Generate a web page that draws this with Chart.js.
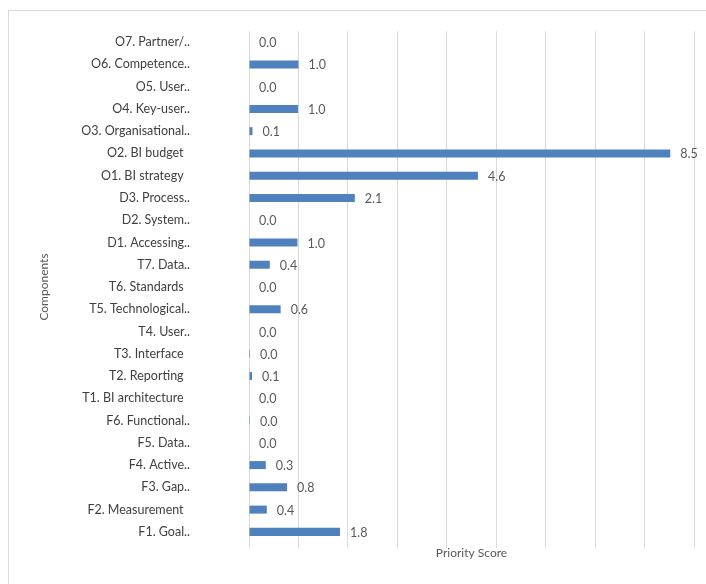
<!DOCTYPE html>
<html>
<head>
<meta charset="utf-8">
<script src="https://cdn.jsdelivr.net/npm/chart.js@4/dist/chart.umd.min.js"></script>
<style>
  html, body { margin: 0; padding: 0; background: #ffffff; }
  #wrap { position: relative; width: 706px; height: 584px; overflow: hidden; }
  #frame { position: absolute; left: 8px; top: 10px; width: 720px; height: 600px; border: 1px solid #d9d9d9; box-sizing: border-box; }
  canvas { position: absolute; left: 0; top: 0; }
</style>
</head>
<body>
<div id="wrap">
  <div id="frame"></div>
  <canvas id="c" width="706" height="584"></canvas>
</div>
<script>
const categories = [
  "O7. Partner/..", "O6. Competence..", "O5. User..", "O4. Key-user..",
  "O3. Organisational..", "O2. BI budget  ", "O1. BI strategy  ", "D3. Process..",
  "D2. System..", "D1. Accessing..", "T7. Data..", "T6. Standards  ",
  "T5. Technological..", "T4. User..", "T3. Interface  ", "T2. Reporting  ",
  "T1. BI architecture  ", "F6. Functional..", "F5. Data..", "F4. Active..",
  "F3. Gap..", "F2. Measurement  ", "F1. Goal.."
];
const priorityScores = [
  0, 1.0, 0, 0.99,
  0.07, 8.52, 4.63, 2.14,
  0, 0.98, 0.42, 0,
  0.64, 0, 0.02, 0.06,
  0, 0.02, 0, 0.34,
  0.77, 0.36, 1.84
];
const xTickValues = [0, 1, 2, 3, 4, 5, 6, 7, 8, 9];

const valueLabels = {
  id: 'valueLabels',
  afterDatasetsDraw(chart) {
    const ctx = chart.ctx;
    const meta = chart.getDatasetMeta(0);
    ctx.save();
    ctx.font = '12.5px Lato, "Open Sans", sans-serif';
    ctx.fillStyle = '#595959';
    ctx.textAlign = 'left';
    ctx.textBaseline = 'middle';
    meta.data.forEach((bar, i) => {
      const v = chart.data.datasets[0].data[i];
      ctx.fillText(v.toFixed(1), bar.x + 10, bar.y + 1);
    });
    ctx.restore();
  }
};

new Chart(document.getElementById('c'), {
  type: 'bar',
  data: {
    labels: categories,
    datasets: [{
      label: 'Priority Score',
      data: priorityScores,
      backgroundColor: '#4f81bd',
      borderWidth: 0,
      barPercentage: 0.36,
      categoryPercentage: 1.0
    }]
  },
  options: {
    indexAxis: 'y',
    responsive: false,
    animation: false,
    events: [],
    layout: { padding: { left: 30, top: 31, right: 12, bottom: 11 } },
    plugins: {
      legend: { display: false },
      tooltip: { enabled: false },
      title: { display: false }
    },
    scales: {
      x: {
        type: 'linear',
        min: xTickValues[0],
        max: xTickValues[xTickValues.length - 1],
        afterBuildTicks(scale) { scale.ticks = xTickValues.map(v => ({ value: v })); },
        ticks: { display: false },
        grid: { color: '#d9d9d9', lineWidth: 1, drawTicks: true, tickLength: 5 },
        border: { display: false },
        title: {
          display: true,
          text: 'Priority Score',
          color: '#595959',
          font: { family: 'Lato, "Open Sans", sans-serif', size: 12 },
          padding: { top: 0, bottom: 13 }
        },
        afterFit(scale) { scale.height = 30; }
      },
      y: {
        grid: { display: false, drawTicks: true, tickLength: 56 },
        border: { display: false },
        ticks: {
          color: '#404040',
          font: { family: 'Lato, "Open Sans", sans-serif', size: 12.5 },
          padding: 3,
          autoSkip: false
        },
        title: {
          display: true,
          text: 'Components',
          color: '#595959',
          font: { family: 'Lato, "Open Sans", sans-serif', size: 12 },
          padding: { top: 7, bottom: 0 }
        },
        afterFit(scale) { scale.width = 219; }
      }
    }
  },
  plugins: [valueLabels]
});
</script>
</body>
</html>
